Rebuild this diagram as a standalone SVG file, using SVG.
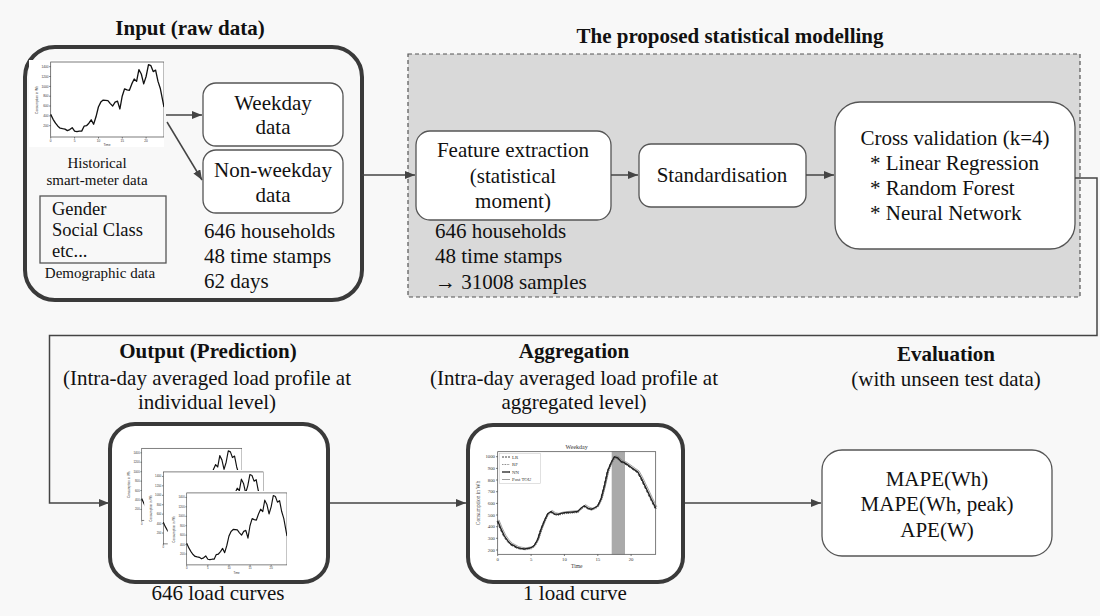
<svg xmlns="http://www.w3.org/2000/svg" xmlns:xlink="http://www.w3.org/1999/xlink" width="1100" height="616" viewBox="0 0 1100 616">
<style>
.t{font-family:"Liberation Serif","Times New Roman",serif;font-size:21px;fill:#111}
.b{font-weight:bold}
.m{text-anchor:middle}
.s15{font-size:15px}
.s18{font-size:18.5px}
.box{fill:#fff;stroke:#555;stroke-width:1.3}
.big{fill:#fff;stroke:#3a3a3a;stroke-width:4}
.conn{fill:none;stroke:#444;stroke-width:1.5}
.tk{font-family:"Liberation Sans",Arial,sans-serif;fill:#333}
.tn{font-family:"Liberation Serif","Times New Roman",serif;fill:#333;font-size:4.8px}
.ax{fill:none;stroke:#444;stroke-width:0.7}
</style>
<defs>
<marker id="arr" markerUnits="userSpaceOnUse" markerWidth="11" markerHeight="8" refX="10" refY="4" orient="auto">
<path d="M0,0 L10,4 L0,8 z" fill="#444"/>
</marker>
<symbol id="lc" viewBox="0 0 135 87" preserveAspectRatio="none">
<rect width="135" height="87" fill="#fff"/>
<rect x="21.7" y="2" width="113.3" height="75" class="ax"/>
<path class="ax" d="M20.2,65.7h1.5M20.2,55.9h1.5M20.2,46h1.5M20.2,36.2h1.5M20.2,26.4h1.5M20.2,16.5h1.5M20.2,6.7h1.5M21.7,77v1.5M45.6,77v1.5M69.5,77v1.5M93.3,77v1.5M117.1,77v1.5"/>
<g class="tk" font-size="3.2" text-anchor="end">
<text x="19.5" y="66.8">200</text><text x="19.5" y="57">400</text><text x="19.5" y="47.1">600</text><text x="19.5" y="37.3">800</text><text x="19.5" y="27.5">1000</text><text x="19.5" y="17.6">1200</text><text x="19.5" y="7.8">1400</text>
</g>
<g class="tk" font-size="3.2" text-anchor="middle">
<text x="21.7" y="81.5">0</text><text x="45.6" y="81.5">5</text><text x="69.5" y="81.5">10</text><text x="93.3" y="81.5">15</text><text x="117.1" y="81.5">20</text>
<text x="78" y="86">Time</text>
<text transform="translate(9,40) rotate(-90)">Consumption in Wh</text>
</g>
<polyline fill="none" stroke="#111" stroke-width="1.3" stroke-linejoin="round" points="21.7,54.4 24.1,59.3 26.5,63.2 28.9,66.2 31.2,68.2 33.6,68.7 36,69.1 38.4,70.6 40.8,69.6 43.2,67.7 45.6,71.1 47.9,71.6 50.3,71.1 52.7,71.1 55.1,66.2 57.5,65.7 59.9,63.2 62.2,59.8 64.6,64.2 67,56.8 69.4,47 71.8,42.1 74.2,40.1 78.9,40.6 81.3,43.6 83.7,46 86.1,42.1 88.5,41.1 90.9,49 93.2,36.2 95.6,28.8 98,29.8 100.4,30.3 102.8,23.9 105.2,19 107.6,21.4 109.9,9.6 112.3,14 114.7,23.9 117.1,16.5 119.5,4.7 121.9,5.7 124.2,11.6 126.6,10.1 129,21.4 131.4,28.8 133.8,41.1 135,47"/>
</symbol>
<path id="agg" d="M497.7,520.8 L501,528.9 L504.4,536 L507.7,540.7 L511,544.2 L514.4,545.9 L517.7,547.7 L521,548.3 L524.4,548.8 L527.7,548.3 L531.1,547.7 L534.4,545.3 L537.7,539.5 L541.1,529 L544.4,520.8 L547.7,513.8 L551.1,511.5 L554.4,513.8 L557.7,514.4 L561.1,513.3 L564.4,512.7 L571.1,512.1 L577.7,511.5 L581.1,508 L584.4,505.7 L587.7,508 L591.1,509.2 L594.4,508 L597.8,505.7 L601.1,498.7 L604.4,485.9 L607.8,470.7 L611.1,462.7 L614.4,456.7 L617.8,457.9 L621.1,461.4 L624.4,462.6 L627.8,464.9 L631.1,467.2 L634.4,469.6 L637.8,471.9 L641.1,477.7 L644.4,484.7 L647.8,491.7 L651.1,498.7 L655.7,508"/>
</defs>
<rect width="1100" height="616" fill="#f8f8f8"/>

<g id="input">
<text class="t b m" x="190" y="35">Input (raw data)</text>
<rect x="25" y="47" width="337" height="253" rx="30" fill="none" stroke="#3a3a3a" stroke-width="4"/>
<use xlink:href="#lc" x="29" y="60" width="135" height="87"/>
<text class="t m s15" x="97" y="168">Historical</text>
<text class="t m s15" x="97" y="185">smart-meter data</text>
<text class="t" x="204" y="238">646 households</text>
<text class="t" x="204" y="263">48 time stamps</text>
<text class="t" x="204" y="288">62 days</text>
</g>
<g id="demographic">
<rect x="40" y="196" width="126" height="67" fill="none" stroke="#555" stroke-width="1.3"/>
<text class="t s18" x="52" y="215">Gender</text>
<text class="t s18" x="52" y="236">Social Class</text>
<text class="t s18" x="52" y="257">etc...</text>
<text class="t m s15" x="100" y="278">Demographic data</text>
</g>
<g id="weekday">
<rect class="box" x="203" y="83" width="140" height="63" rx="13"/>
<text class="t m" x="273" y="110">Weekday</text>
<text class="t m" x="273" y="134">data</text>
</g>
<g id="nonweekday">
<rect class="box" x="203" y="150" width="140" height="63" rx="13"/>
<text class="t m" x="273" y="177">Non-weekday</text>
<text class="t m" x="273" y="202">data</text>
</g>

<g id="modelling">
<rect x="408" y="54" width="672" height="243" fill="#d9d9d9" stroke="#555" stroke-width="1.2" stroke-dasharray="4,3"/>
<text class="t b m" x="730" y="43">The proposed statistical modelling</text>
<text class="t" x="435" y="238">646 households</text>
<text class="t" x="435" y="263">48 time stamps</text>
<text class="t" x="435" y="289">→ 31008 samples</text>
</g>
<g id="feature">
<rect class="box" x="416" y="131" width="195" height="89" rx="14"/>
<text class="t m" x="513" y="157">Feature extraction</text>
<text class="t m" x="513" y="183">(statistical</text>
<text class="t m" x="513" y="208">moment)</text>
</g>
<g id="standardisation">
<rect class="box" x="639" y="144" width="167" height="63" rx="12"/>
<text class="t m" x="722" y="182">Standardisation</text>
</g>
<g id="crossval">
<rect class="box" x="835" y="102" width="240" height="147" rx="25"/>
<text class="t m" x="955" y="145">Cross validation (k=4)</text>
<text class="t" x="870" y="170">* Linear Regression</text>
<text class="t" x="870" y="195">* Random Forest</text>
<text class="t" x="870" y="220">* Neural Network</text>
</g>

<g id="output">
<text class="t b m" x="208" y="358">Output (Prediction)</text>
<text class="t m" x="207" y="385">(Intra-day averaged load profile at</text>
<text class="t m" x="207" y="409">individual level)</text>
<rect class="big" x="110" y="424" width="218" height="158" rx="25"/>
<use xlink:href="#lc" x="122.5" y="446.4" width="119.5" height="83.5"/>
<use xlink:href="#lc" x="144.1" y="470" width="119.5" height="83.5"/>
<use xlink:href="#lc" x="167.5" y="491" width="119.5" height="83.5"/>
<text class="t m" x="218" y="600">646 load curves</text>
</g>

<g id="aggregation">
<text class="t b m" x="574" y="358">Aggregation</text>
<text class="t m" x="574" y="385">(Intra-day averaged load profile at</text>
<text class="t m" x="574" y="409">aggregated level)</text>
<rect class="big" x="468" y="425" width="215" height="157" rx="25"/>
<rect x="611.7" y="451.7" width="13.3" height="102.6" fill="#aaa"/>
<rect x="497.7" y="451.7" width="158" height="102.6" class="ax"/>
<use xlink:href="#agg" fill="none" stroke="#888" stroke-width="0.8" transform="translate(1.2,-1)"/>
<use xlink:href="#agg" fill="none" stroke="#555" stroke-width="0.9" stroke-dasharray="1,1" transform="translate(0.6,1)"/>
<use xlink:href="#agg" fill="none" stroke="#444" stroke-width="1" stroke-dasharray="3,1.5" transform="translate(-0.6,0.6)"/>
<use xlink:href="#agg" fill="none" stroke="#222" stroke-width="1.3"/>
<rect x="499.5" y="453.5" width="41" height="30" fill="#fff" stroke="#ccc" stroke-width="0.6"/>
<path d="M502,457 h8" stroke="#444" stroke-width="1" stroke-dasharray="2,1"/>
<path d="M502,464.5 h8" stroke="#555" stroke-width="0.8" stroke-dasharray="0.8,0.8"/>
<path d="M502,472 h8" stroke="#222" stroke-width="1.3"/>
<path d="M502,479.5 h8" stroke="#888" stroke-width="0.8"/>
<g class="tn">
<text x="512" y="458.7">LR</text><text x="512" y="466.2">RF</text><text x="512" y="473.7">NN</text><text x="512" y="481.2">Post TOU</text>
</g>
<path class="ax" d="M496,550h1.7M496,538.3h1.7M496,526.7h1.7M496,515h1.7M496,503.4h1.7M496,491.7h1.7M496,480h1.7M496,468.4h1.7M496,456.7h1.7M497.7,554.3v1.7M531.1,554.3v1.7M564.4,554.3v1.7M597.8,554.3v1.7M631.1,554.3v1.7"/>
<g class="tn" text-anchor="end">
<text x="495" y="551.6">200</text><text x="495" y="539.9">300</text><text x="495" y="528.3">400</text><text x="495" y="516.6">500</text><text x="495" y="505">600</text><text x="495" y="493.3">700</text><text x="495" y="481.6">800</text><text x="495" y="470">900</text><text x="495" y="458.3">1000</text>
</g>
<g class="tn" text-anchor="middle">
<text x="497.7" y="561">0</text><text x="531.1" y="561">5</text><text x="564.4" y="561">10</text><text x="597.8" y="561">15</text><text x="631.1" y="561">20</text>
</g>
<text class="tn" style="font-size:5.5px" text-anchor="middle" x="576.7" y="567.5">Time</text>
<text class="tn" style="font-size:6px" text-anchor="middle" x="576.7" y="449">Weekday</text>
<text class="tn" style="font-size:5.5px" text-anchor="middle" transform="translate(480,503) rotate(-90)">Consumption in Wh</text>
<text class="t m" x="575" y="600">1 load curve</text>
</g>

<g id="evaluation">
<text class="t b m" x="946" y="361">Evaluation</text>
<text class="t m" x="946" y="386">(with unseen test data)</text>
<rect class="box" x="822" y="450" width="230" height="106" rx="20"/>
<text class="t m" x="937" y="486">MAPE(Wh)</text>
<text class="t m" x="937" y="511">MAPE(Wh, peak)</text>
<text class="t m" x="937" y="537">APE(W)</text>
</g>

<g id="connectors">
<path class="conn" d="M166,115 H202" marker-end="url(#arr)"/>
<path class="conn" d="M167,122 L202,180" marker-end="url(#arr)"/>
<path class="conn" d="M362,175 H415" marker-end="url(#arr)"/>
<path class="conn" d="M611,175 H638" marker-end="url(#arr)"/>
<path class="conn" d="M806,175 H834" marker-end="url(#arr)"/>
<path class="conn" d="M1075,178 H1097 V335.5 H49.5 V503 H109" marker-end="url(#arr)"/>
<path class="conn" d="M330,503 H466" marker-end="url(#arr)"/>
<path class="conn" d="M685,503 H821" marker-end="url(#arr)"/>
</g>
</svg>
